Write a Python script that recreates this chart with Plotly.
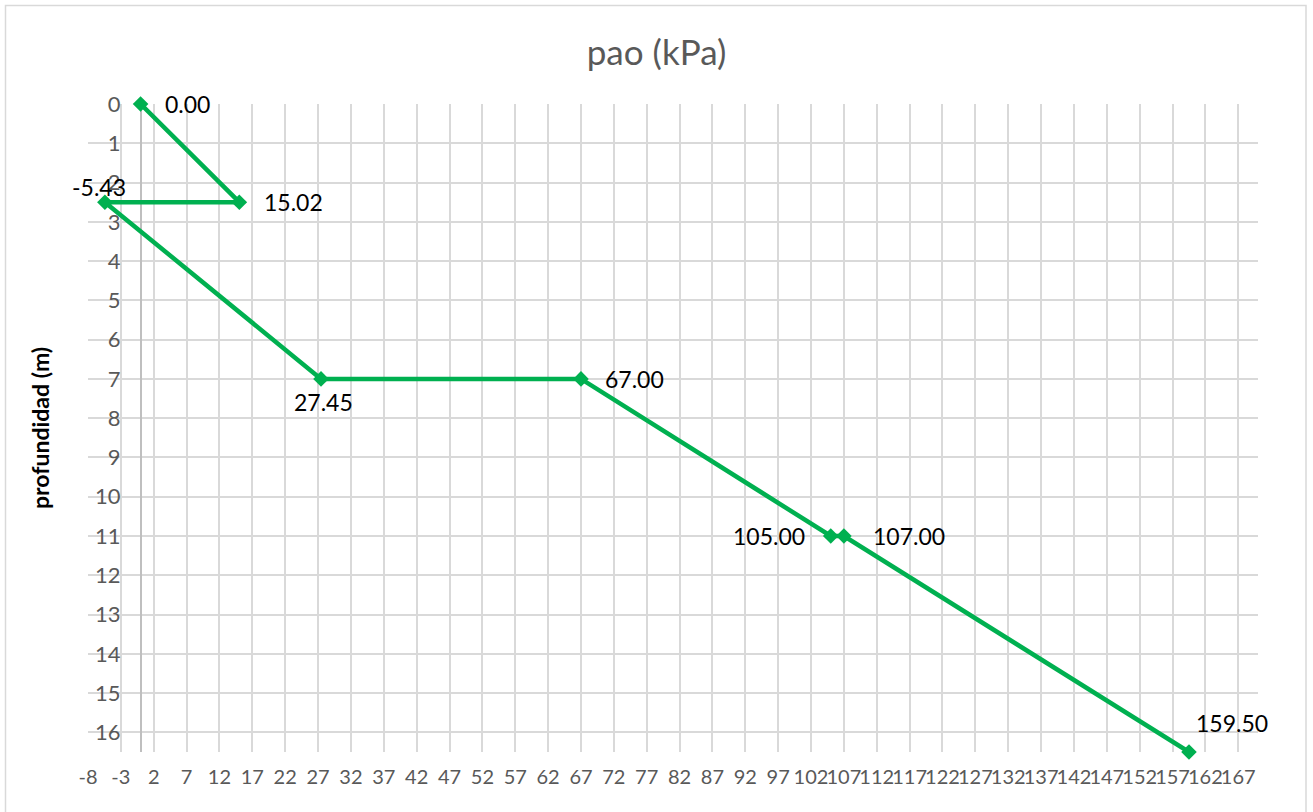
import plotly.graph_objects as go

# pore pressure profile: pressure (kPa) vs depth (m)
pao_kpa = [0.00, 15.02, -5.43, 27.45, 67.00, 105.00, 107.00, 159.50]
depth_m = [0.0, 2.5, 2.5, 7.0, 7.0, 11.0, 11.0, 16.5]
# label placement per point: (xanchor, xshift px, yshift px)
label_place = [("left", 22, 0), ("left", 23, 0), ("center", -6, 15),
               ("center", 2, -23), ("left", 22, 0), ("right", -24, 0),
               ("left", 27, 0), ("center", 43, 29)]

# pressure axis ticks every 5 kPa starting at -8
x_tick_vals = list(range(-8, 168, 5))
x_tick_text = [str(v) for v in x_tick_vals]

title_text = "pao (kPa)"
y_title = "profundidad (m)"

GREEN = "#00B050"
GRID = "#D9D9D9"
TICK = "#595959"
FONT = "Lato, 'Open Sans', sans-serif"

x_min, x_max = -8, 170
y_max = 16.5

fig = go.Figure()
fig.add_trace(go.Scatter(
    x=pao_kpa, y=depth_m,
    mode="lines+markers",
    line=dict(color=GREEN, width=4.5),
    marker=dict(symbol="diamond", size=12, color=GREEN),
    cliponaxis=False,
    showlegend=False,
))

annotations = [dict(
    x=xv, y=yv, xref="x", yref="y", text=f"{xv:.2f}", showarrow=False,
    xanchor=anc, yanchor="middle", xshift=dx, yshift=dy,
    font=dict(family=FONT, size=23, color="#000000"),
) for xv, yv, (anc, dx, dy) in zip(pao_kpa, depth_m, label_place)]

annotations.append(dict(
    text=f"<b>{y_title}</b>", xref="paper", yref="paper",
    x=(40 - 88) / 1170, y=0.5, textangle=-90, showarrow=False,
    font=dict(family=FONT, size=23, color="#000000"),
    xanchor="center", yanchor="middle",
))

fig.update_layout(
    width=1313, height=812,
    margin=dict(l=88, r=55, t=104, b=60),
    paper_bgcolor="white", plot_bgcolor="white",
    font=dict(family=FONT),
    title=dict(text=title_text, x=0.5, xanchor="center", y=0.935, yanchor="middle",
               font=dict(family=FONT, size=35, color=TICK)),
    xaxis=dict(
        range=[x_min, x_max], tickmode="array",
        tickvals=x_tick_vals, ticktext=x_tick_text,
        showgrid=True, gridcolor=GRID, gridwidth=1.5,
        zeroline=True, zerolinecolor="#BFBFBF", zerolinewidth=1.5,
        showline=False, ticks="", tickangle=0, automargin=False,
        tickfont=dict(family=FONT, size=20, color=TICK),
        ticklabelstandoff=11,
    ),
    yaxis=dict(
        range=[y_max, 0], tick0=0, dtick=1,
        showgrid=True, gridcolor=GRID, gridwidth=1.5,
        zeroline=False, showline=False, ticks="", automargin=False,
        anchor="free", position=(0 - x_min) / (x_max - x_min),
        tickfont=dict(family=FONT, size=22, color=TICK),
        ticklabelstandoff=20,
    ),
    annotations=annotations,
    shapes=[dict(
        type="rect", xref="paper", yref="paper",
        x0=(5.5 - 88) / 1170, x1=(1306 - 88) / 1170,
        y0=(752 - 815) / 648, y1=(752 - 5.5) / 648,
        line=dict(color="#D9D9D9", width=1.5), fillcolor="rgba(0,0,0,0)", layer="below",
    )],
)

fig.write_html("out.html")
